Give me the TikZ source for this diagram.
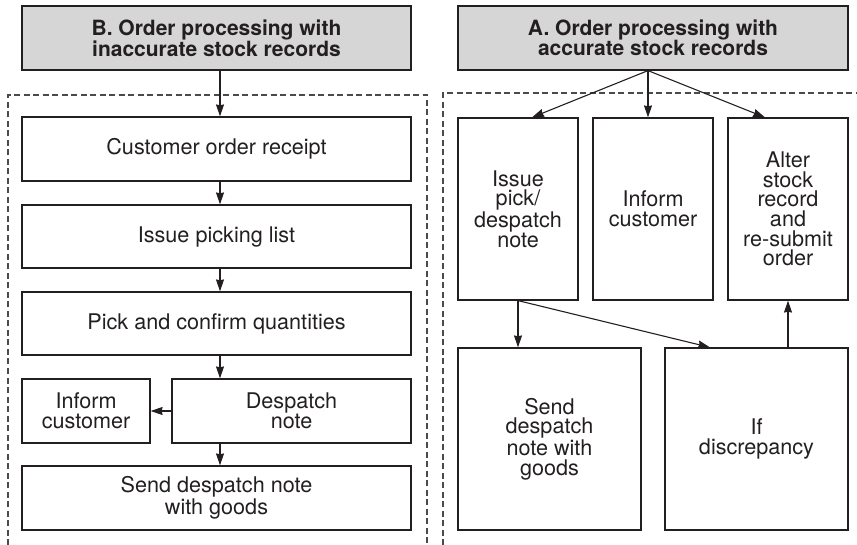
\documentclass[tikz,border=0pt]{standalone}
\usepackage{fontspec}
\setmainfont{TeX Gyre Heros}
\usetikzlibrary{arrows.meta}
\definecolor{ink}{HTML}{231F20}
\definecolor{headfill}{HTML}{D6D6D6}
\definecolor{dashgray}{HTML}{4A4A4A}
\tikzset{
  box/.style={draw=ink, line width=1.2pt, rectangle, inner sep=0pt, align=center,
    text=ink, font=\fontsize{21.6}{19.6}\selectfont},
  headbox/.style={box, fill=headfill, font=\bfseries\fontsize{21}{20}\selectfont},
  arr/.style={draw=ink, line width=1.1pt, -{Stealth[length=12pt,width=8pt,inset=1pt]}},
  frame/.style={draw=dashgray, line width=1.3pt, dash pattern=on 6pt off 3.5pt}
}
\begin{document}
\begin{tikzpicture}[x=1pt, y=-1pt]
\useasboundingbox (0,0) rectangle (857,545);

% dashed frames around both procedures
\draw[frame] (8,545) -- (8,95) -- (427,95) -- (427,545);
\draw[frame] (443,545) -- (443,93) -- (860,93);

% ---- B: inaccurate stock records ----
\node[headbox, minimum width=389pt, minimum height=64pt] (headB) at (216.5,38)
  {B. Order processing with\\inaccurate stock records};
\node[box, minimum width=389pt, minimum height=64pt] (b1) at (216.5,149) {Customer order receipt};
\node[box, minimum width=389pt, minimum height=63pt] (b2) at (216.5,236.5) {Issue picking list};
\node[box, minimum width=389pt, minimum height=63pt] (b3) at (216.5,323.5) {Pick and confirm quantities};
\node[box, minimum width=239pt, minimum height=64pt] (b4) at (291.5,411) {Despatch\\note};
\node[box, minimum width=128pt, minimum height=64pt] (b5) at (86,411) {Inform\\customer};
\node[box, minimum width=389pt, minimum height=64pt] (b6) at (216.5,498) {Send despatch note\\with goods};

\draw[arr] ([xshift=3.5pt]headB.south) -- ([xshift=3.5pt]b1.north);
\draw[arr] ([xshift=3.5pt]b1.south) -- ([xshift=3.5pt]b2.north);
\draw[arr] ([xshift=3.5pt]b2.south) -- ([xshift=3.5pt]b3.north);
\draw[arr] ([xshift=3.5pt]b3.south) -- ([xshift=-71.5pt]b4.north);
\draw[arr] (b4.west) -- (b5.east);
\draw[arr] ([xshift=-71.5pt]b4.south) -- ([xshift=3.5pt]b6.north);

% ---- A: accurate stock records ----
\node[headbox, minimum width=390pt, minimum height=64pt] (headA) at (653,38)
  {A. Order processing with\\accurate stock records};
\node[box, minimum width=120pt, minimum height=182pt] (a1) at (518,209) {Issue\\pick/\\despatch\\note};
\node[box, minimum width=120pt, minimum height=182pt] (a2) at (653,209) {Inform\\customer};
\node[box, minimum width=120pt, minimum height=182pt] (a3) at (788,209) {Alter\\stock\\record\\and\\re-submit\\order};
\node[box, minimum width=183pt, minimum height=182pt] (a4) at (549.5,439) {Send\\despatch\\note with\\goods};
\node[box, minimum width=183pt, minimum height=182pt] (a5) at (756.5,439) {If\\discrepancy};

\draw[arr] ([xshift=-5pt]headA.south) -- ([xshift=14pt]a1.north);
\draw[arr] ([xshift=-5pt]headA.south) -- ([xshift=-5pt]a2.north);
\draw[arr] ([xshift=-5pt]headA.south) -- ([xshift=-23pt]a3.north);
\draw[arr] (a1.south) -- ([xshift=-31.5pt]a4.north);
\draw[arr] (a1.south) -- ([xshift=-46.5pt]a5.north);
\draw[arr] ([xshift=31.5pt]a5.north) -- (a3.south);
\end{tikzpicture}
\end{document}
